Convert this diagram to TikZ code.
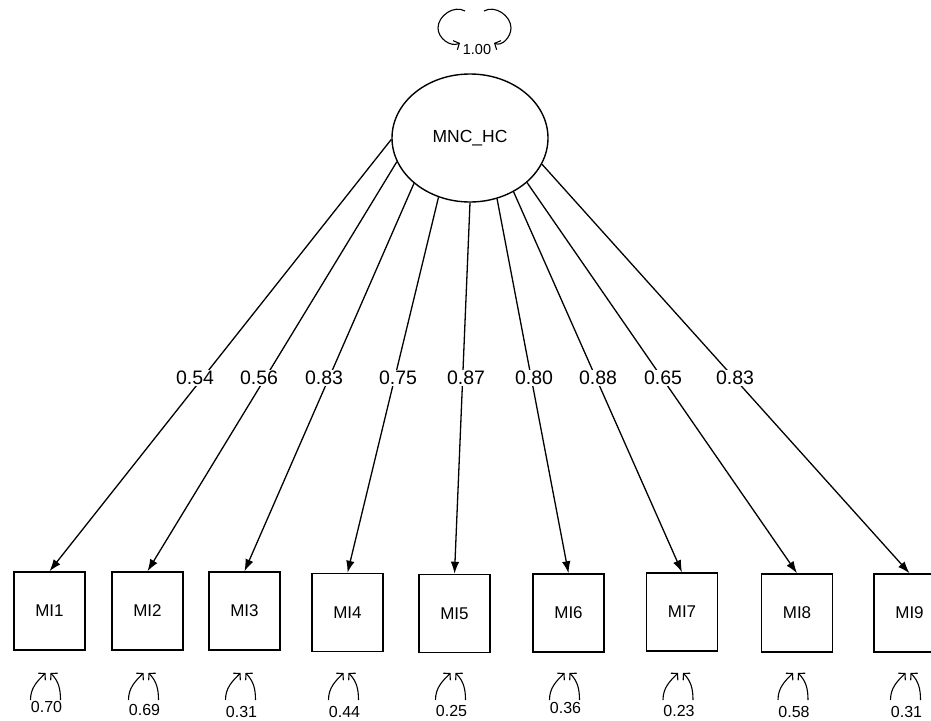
\documentclass[tikz,border=0pt]{standalone}
\usepackage{fontspec}
\setmainfont{Liberation Sans}
\usetikzlibrary{arrows.meta,shapes.geometric}
\begin{document}
\begin{tikzpicture}[x=1pt,y=-1pt,
  box/.style={draw,line width=1.5pt,minimum width=71pt,minimum height=78pt,inner sep=0pt,font=\fontsize{17}{19}\selectfont},
  load/.style={fill=white,inner sep=1.5pt,font=\fontsize{19.5}{21}\selectfont},
  res/.style={font=\fontsize{16}{17}\selectfont,inner sep=0pt},
  ld/.style={line width=1.3pt,-{Latex[length=12pt,width=8.5pt]}},
  rarr/.style={line width=1.1pt,-{Straight Barb[length=4.5pt,width=10pt]}}
]
\useasboundingbox (0,0) rectangle (931,720);
\node[ellipse,draw,line width=1.4pt,minimum width=156pt,minimum height=128pt,inner sep=0pt,font=\fontsize{17.5}{19}\selectfont] (F) at (470,138) {MNC\_HC};
% variance loop of the factor
\coordinate (fl1) at (465,11);
\coordinate (fl2) at (460,43);
\coordinate (fr1) at (484,11);
\coordinate (fr2) at (494,43);
\draw[rarr] (fl1) to[out=150,in=90] (438,28) to[out=270,in=205] (fl2);
\draw[rarr] (fr1) to[out=30,in=90] (511,28) to[out=270,in=335] (fr2);
\node[res,font=\fontsize{14.5}{16}\selectfont] (fv) at (477,50) {1.00};
% indicators
\foreach \n/\x/\y in {1/49.5/611, 2/147.5/611, 3/244.5/611, 4/347.5/612.5, 5/454.5/613.5, 6/568.5/613, 7/682/612, 8/797/613, 9/909.5/613}
  \node[box] (m\n) at (\x,\y) {MI\n};
% loadings
\foreach \n/\a/\lx/\v in {1/181/195/0.54, 2/198/259/0.56, 3/219/324/0.83, 4/242/398/0.75, 5/270/466/0.87, 6/294/534/0.80, 7/309/598/0.88, 8/322/663/0.65, 9/340/735/0.83} {
  \draw[ld] (F.\a) -- (m\n.north);
  \node[load] (l\n) at (\lx,378) {\v};
}
% residual variances
\foreach \n/\x/\ly/\v in {1/49.5/707/0.70, 2/147.5/710/0.69, 3/244.5/712/0.31, 4/347.5/712/0.44, 5/454.5/711/0.25, 6/568.5/708/0.36, 7/682/711/0.23, 8/797/712/0.58, 9/909.5/712/0.31} {
  \draw[rarr] (\x-19,700) to[out=90,in=225] (\x-4,673);
  \draw[rarr] (\x+11,700) to[out=90,in=315] (\x+1,673);
  \node[res] (r\n) at (\x-3,\ly) {\v};
}
\end{tikzpicture}
\end{document}
